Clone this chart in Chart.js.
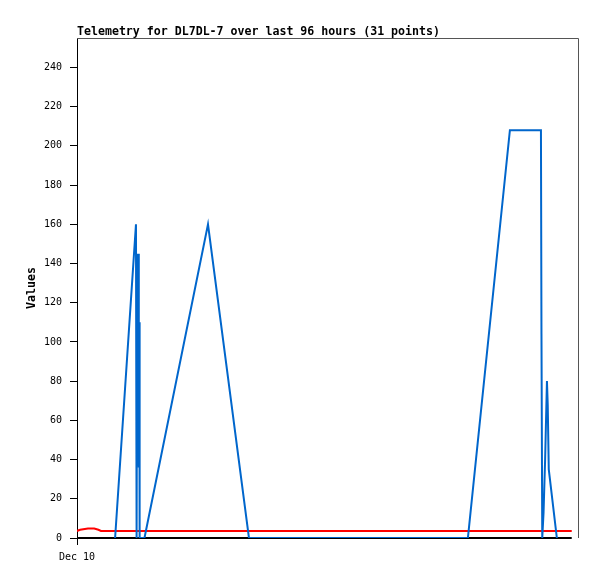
<!DOCTYPE html>
<html>
<head>
<meta charset="utf-8">
<script src="https://cdn.jsdelivr.net/npm/chart.js@4"></script>
<style>
  html, body { margin: 0; padding: 0; background: #fff; }
  #wrap { width: 597px; height: 579px; }
</style>
</head>
<body>
<div id="wrap"><canvas id="c" width="597" height="579"></canvas></div>
<script>
// hours since Dec 10 00:00
const blueHours = [7.3, 11.3, 11.42, 11.55, 11.65, 11.75, 11.84, 11.94, 12.0, 12.93,
                   25.1, 32.95, 74.9, 82.95, 88.9, 89.0, 89.15, 89.4, 89.7, 90.05, 90.2, 90.4, 91.95];
const blueValues = [0, 160, 0, 145, 80, 145, 36, 110, 0, 0,
                    160, 0, 0, 208, 208, 104, 0, 13, 40, 80, 68, 35, 0];

const redHours = [0, 0.6, 2.1, 3.3, 4.1, 4.6, 94.8];
const redValues = [3.6, 4.2, 4.8, 4.8, 4.2, 3.6, 3.6];

const baseHours = [0, 94.8];
const baseValues = [0, 0];

const xLabels = ['Dec 10'];
const yTicks = [0, 20, 40, 60, 80, 100, 120, 140, 160, 180, 200, 220, 240];

const titleText = 'Telemetry for DL7DL-7 over last 96 hours (31 points)';
const yTitle = 'Values';

function pairs(xs, ys) {
    return xs.map((x, i) => ({ x: x, y: ys[i] }));
}

const mono = "'DejaVu Sans Mono', 'Liberation Mono', monospace";

const framePlugin = {
    id: 'frame',
    afterDraw(chart) {
        const ctx = chart.ctx;
        const a = chart.chartArea;
        ctx.save();
        // top and right border
        ctx.strokeStyle = '#555555';
        ctx.lineWidth = 1;
        ctx.beginPath();
        ctx.moveTo(a.left, a.top + 0.5);
        ctx.lineTo(a.right + 0.5, a.top + 0.5);
        ctx.lineTo(a.right + 0.5, a.bottom);
        ctx.stroke();
        // title
        ctx.fillStyle = '#000';
        ctx.font = 'bold 11.6px ' + mono;
        ctx.textAlign = 'left';
        ctx.textBaseline = 'alphabetic';
        ctx.fillText(titleText, a.left, 35);
        // y axis title
        ctx.translate(32, (a.top + a.bottom) / 2);
        ctx.rotate(-Math.PI / 2);
        ctx.textAlign = 'center';
        ctx.textBaseline = 'middle';
        ctx.fillText(yTitle, 0, 0);
        ctx.restore();
    }
};

new Chart(document.getElementById('c').getContext('2d'), {
    type: 'line',
    data: {
        datasets: [
            {
                label: 'telemetry',
                data: pairs(blueHours, blueValues),
                borderColor: '#0066cc',
                borderWidth: 2,
                pointRadius: 0,
                tension: 0,
                order: 0
            },
            {
                label: 'red',
                data: pairs(redHours, redValues),
                borderColor: '#ff0000',
                borderWidth: 2,
                pointRadius: 0,
                tension: 0,
                order: 1
            },
            {
                label: 'base',
                data: pairs(baseHours, baseValues),
                borderColor: '#000000',
                borderWidth: 2,
                pointRadius: 0,
                tension: 0,
                clip: false,
                order: 2
            }
        ]
    },
    options: {
        responsive: false,
        animation: false,
        events: [],
        layout: { padding: { top: 38, right: 19, bottom: 0, left: 0 } },
        plugins: {
            legend: { display: false },
            tooltip: { enabled: false },
            title: { display: false }
        },
        scales: {
            x: {
                type: 'linear',
                min: 0,
                max: 96,
                afterFit: s => { s.height = 41; },
                afterBuildTicks: s => { s.ticks = xLabels.map((t, i) => ({ value: i * 24 })); },
                ticks: {
                    autoSkip: false,
                    maxRotation: 0,
                    padding: 6,
                    color: '#000',
                    font: { family: mono, size: 10 },
                    callback: (v, i) => xLabels[i]
                },
                grid: {
                    drawOnChartArea: false,
                    tickLength: 7,
                    color: '#000',
                    lineWidth: 1
                },
                border: { display: false }
            },
            y: {
                min: 0,
                max: 255,
                afterFit: s => { s.width = 77; },
                afterBuildTicks: s => { s.ticks = yTicks.map(v => ({ value: v })); },
                ticks: {
                    padding: 8,
                    color: '#000',
                    font: { family: mono, size: 10 }
                },
                grid: {
                    drawOnChartArea: false,
                    tickLength: 7,
                    color: '#000',
                    lineWidth: 1
                },
                border: { display: true, color: '#000', width: 1 }
            }
        }
    },
    plugins: [framePlugin]
});
</script>
</body>
</html>
